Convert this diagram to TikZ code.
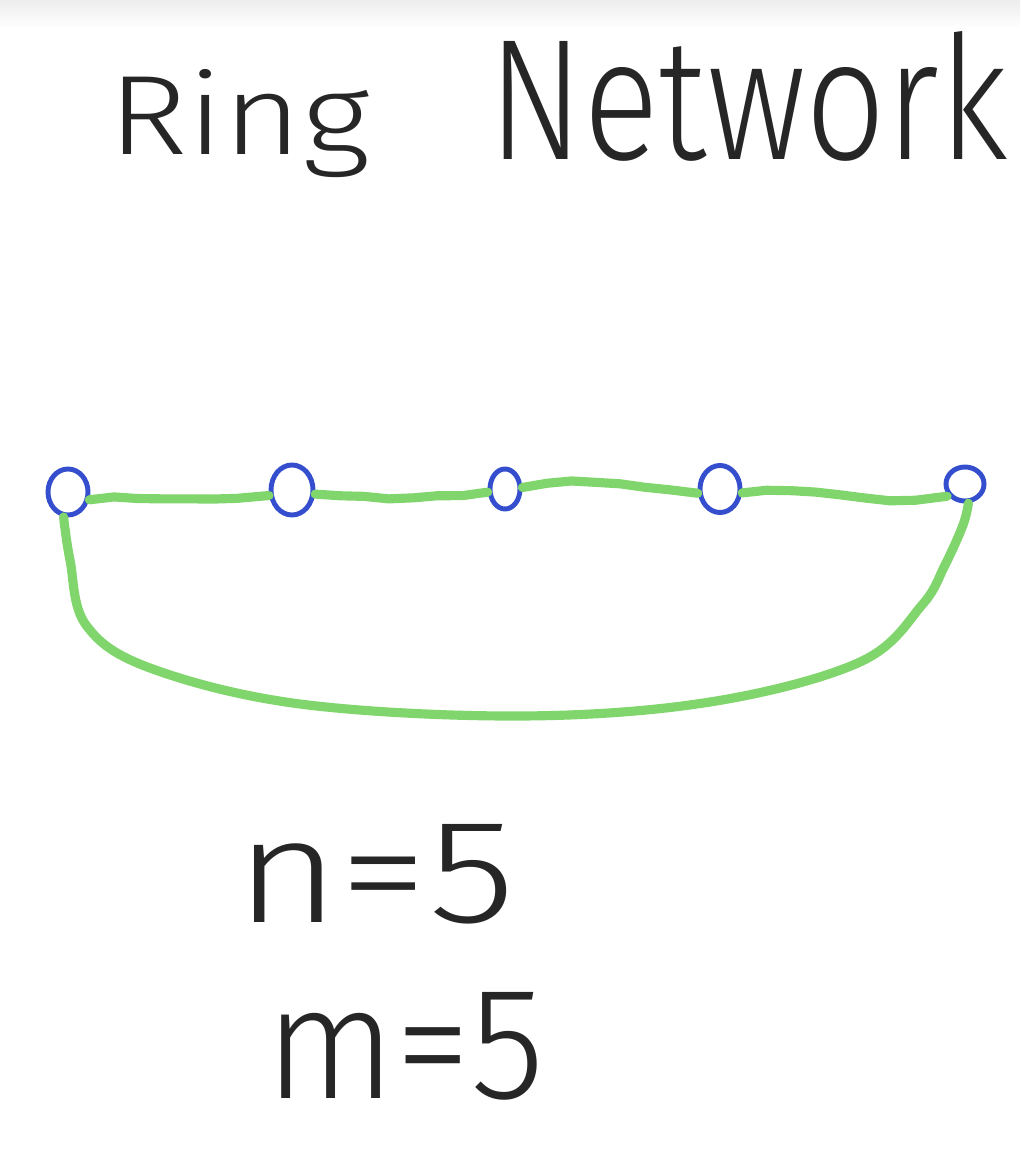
\documentclass[tikz,border=0pt]{standalone}
\usepackage{fontspec}
\setmainfont{Liberation Sans}
\newfontfamily\handfont{Fira Sans}[UprightFont={* Light}]
\usetikzlibrary{shapes.geometric,decorations.pathmorphing}
\definecolor{inkblue}{RGB}{52,78,205}
\definecolor{inkgreen}{RGB}{128,214,108}
\definecolor{ink}{RGB}{38,38,38}
\tikzset{
  host/.style={ellipse, draw=inkblue, line width=1.4pt, inner sep=0pt},
  wire/.style={draw=inkgreen, line width=2.6pt, line cap=round, line join=round},
  wobble/.style={decorate, decoration={random steps, segment length=7pt, amplitude=0.35pt}},
  hand/.style={inner sep=0pt, outer sep=0pt, text=ink, anchor=base west, font=\handfont}
}
\begin{document}
\begin{tikzpicture}[x=0.01cm, y=0.01cm]
\useasboundingbox (0,0) rectangle (1020,-1158);
\shade[top color=black!7, bottom color=white] (0,0) rectangle (1020,-28);

% title
\node[hand] (ring) at (108,-155) {\resizebox{2.62cm}{0.85cm}{Ring}};
\node[hand] (network) at (488,-160) {\resizebox{5.2cm}{1.28cm}{Network}};

% ring links (drawn first so the hosts sit on top)
\path (68,-492) coordinate (c1) (292,-490) coordinate (c2) (505,-489) coordinate (c3)
      (720,-489) coordinate (c4) (965,-484) coordinate (c5);

% hosts
\node[host, minimum width=0.40cm, minimum height=0.46cm] (n1) at (c1) {};
\node[host, minimum width=0.42cm, minimum height=0.50cm] (n2) at (c2) {};
\node[host, minimum width=0.30cm, minimum height=0.40cm] (n3) at (c3) {};
\node[host, minimum width=0.40cm, minimum height=0.47cm] (n4) at (c4) {};
\node[host, minimum width=0.38cm, minimum height=0.34cm] (n5) at (c5) {};

\draw[wire, wobble] (n1.-20) to[out=5, in=190] (n2.-170);
\draw[wire, wobble] (n2.-10) to[out=-5, in=185] (n3.-170);
\draw[wire, wobble] (n3.5) to[out=10, in=175] (n4.-170);
\draw[wire, wobble] (n4.-10) to[out=5, in=190] (n5.-150);
\draw[wire] plot[smooth, tension=0.6] coordinates {
  (n1.-100) (70,-560) (86,-625) (150,-668) (300,-704) (520,-716)
  (710,-702) (860,-662) (922,-605) (945,-565) (963,-525) (n5.-80)};

% counts
\node[hand] (nval) at (235,-922) {\resizebox{2.8cm}{0.98cm}{n=5}};
\node[hand] (mval) at (265,-1098) {\resizebox{2.8cm}{1.06cm}{m=5}};
\end{tikzpicture}
\end{document}
